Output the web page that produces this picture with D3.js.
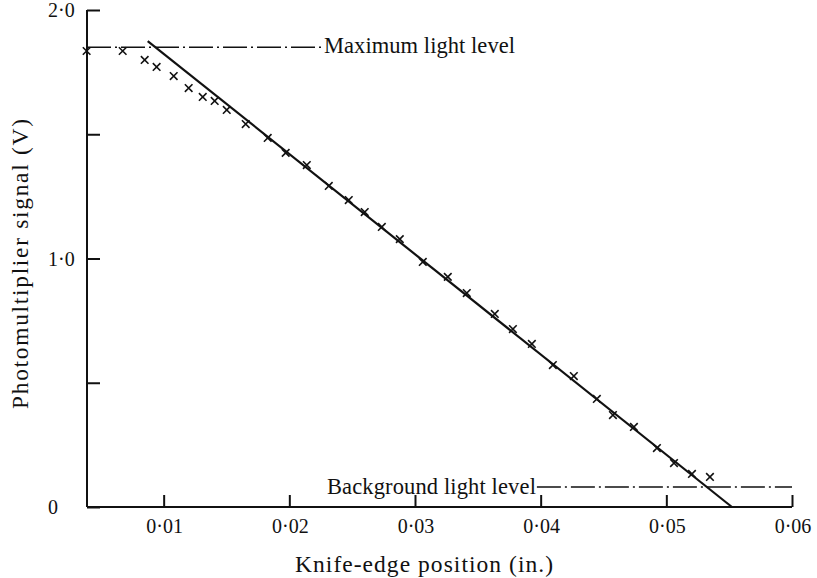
<!DOCTYPE html>
<html>
<head>
<meta charset="utf-8">
<script src="https://cdn.jsdelivr.net/npm/d3@7"></script>
<style>
  html, body { margin: 0; padding: 0; background: #fff; }
  svg { display: block; }
  text { font-family: "Liberation Serif", "Times New Roman", serif; fill: #111; }
</style>
</head>
<body>
<svg id="chart" width="817" height="578"></svg>
<script>
// ---- data ----
const knifePosition = [0.00387, 0.00674, 0.00849, 0.00944, 0.01080, 0.01199, 0.01311, 0.01406, 0.01502, 0.01653,
  0.01828, 0.01971, 0.02139, 0.02314, 0.02473, 0.02600, 0.02736, 0.02879, 0.03062, 0.03261,
  0.03412, 0.03635, 0.03779, 0.03930, 0.04097, 0.04264, 0.04447, 0.04575, 0.04742, 0.04925,
  0.05061, 0.05204, 0.05347];
const signalVolts = [1.835, 1.835, 1.799, 1.771, 1.734, 1.686, 1.650, 1.634, 1.598, 1.541,
  1.485, 1.425, 1.376, 1.292, 1.235, 1.187, 1.127, 1.078, 0.986, 0.926,
  0.861, 0.777, 0.716, 0.656, 0.571, 0.527, 0.435, 0.370, 0.322, 0.237,
  0.177, 0.133, 0.121];
const fitLineX = [0.00873, 0.05522];
const fitLineY = [1.875, 0];
const maxLevel = 1.85;
const maxLevelXEnd = 0.02268;
const backgroundLevel = 0.08;
const backgroundXStart = 0.0397;
const xTickValues = [0.01, 0.02, 0.03, 0.04, 0.05, 0.06];
const xTickLabels = ["0·01", "0·02", "0·03", "0·04", "0·05", "0·06"];
const yTickValues = [0, 0.5, 1.0, 1.5, 2.0];
const yTickLabels = ["0", "", "1·0", "", "2·0"];
const xTitle = "Knife-edge position (in.)";
const yTitle = "Photomultiplier signal (V)";
const maxLabel = "Maximum light level";
const bgLabel = "Background light level";

// ---- scales ----
const x = d3.scaleLinear().domain([0.0039, 0.06]).range([87, 792]);
const y = d3.scaleLinear().domain([0, 2]).range([507, 10]);

const svg = d3.select("#chart");
const ink = "#111";

// axes
const xAxis = d3.axisTop(x).tickValues(xTickValues).tickSize(12).tickFormat("");
const gx = svg.append("g").attr("transform", `translate(0,${y(0)})`).call(xAxis);
gx.select(".domain").attr("d", `M${x.range()[0]},0H${x.range()[1]}`).attr("stroke", ink).attr("stroke-width", 2);
gx.selectAll(".tick line").attr("stroke", ink).attr("stroke-width", 2);

const yAxis = d3.axisRight(y).tickValues(yTickValues).tickSize(13).tickFormat("");
const gy = svg.append("g").attr("transform", `translate(${x.range()[0]},0)`).call(yAxis);
gy.select(".domain").attr("d", `M0,${y.range()[0]}V${y.range()[1]}`).attr("stroke", ink).attr("stroke-width", 2);
gy.selectAll(".tick line").attr("stroke", ink).attr("stroke-width", 2);

// tick labels
svg.append("g").selectAll("text").data(xTickValues).join("text")
  .attr("x", d => x(d) + 1).attr("y", 533)
  .attr("text-anchor", "middle").attr("font-size", 20)
  .text((d, i) => xTickLabels[i]);

svg.append("g").selectAll("text").data(yTickValues).join("text")
  .attr("x", 48).attr("y", d => y(d) + 7)
  .attr("text-anchor", "start").attr("font-size", 20)
  .text((d, i) => yTickLabels[i]);

// axis titles
svg.append("text").attr("x", 424).attr("y", 572).attr("text-anchor", "middle")
  .attr("font-size", 23.5).attr("textLength", 258).attr("lengthAdjust", "spacing").text(xTitle);
svg.append("text").attr("transform", "translate(28,264) rotate(-90)").attr("text-anchor", "middle")
  .attr("font-size", 23.5).attr("textLength", 290).attr("lengthAdjust", "spacing").text(yTitle);

// reference levels (dash-dot)
svg.append("line").attr("x1", x.range()[0]).attr("x2", x(maxLevelXEnd))
  .attr("y1", y(maxLevel)).attr("y2", y(maxLevel))
  .attr("stroke", ink).attr("stroke-width", 1.5).attr("stroke-dasharray", "24,4,2,4");
svg.append("text").attr("x", x(maxLevelXEnd) + 1).attr("y", y(maxLevel) + 6)
  .attr("font-size", 22.5).attr("textLength", 191).attr("lengthAdjust", "spacing").text(maxLabel);

svg.append("line").attr("x1", x(backgroundXStart)).attr("x2", x.range()[1])
  .attr("y1", y(backgroundLevel)).attr("y2", y(backgroundLevel))
  .attr("stroke", ink).attr("stroke-width", 1.5).attr("stroke-dasharray", "24,4,2,4");
svg.append("text").attr("x", x(backgroundXStart) - 1).attr("y", y(backgroundLevel) + 7)
  .attr("text-anchor", "end")
  .attr("font-size", 22.5).attr("textLength", 209).attr("lengthAdjust", "spacing").text(bgLabel);

// fitted line
svg.append("line")
  .attr("x1", x(fitLineX[0])).attr("y1", y(fitLineY[0]))
  .attr("x2", x(fitLineX[1])).attr("y2", y(fitLineY[1]))
  .attr("stroke", ink).attr("stroke-width", 2.2);

// data crosses
const s = 3.8;
svg.append("g").selectAll("path").data(knifePosition).join("path")
  .attr("d", (d, i) => {
    const px = x(d), py = y(signalVolts[i]);
    return `M${px - s},${py - s}L${px + s},${py + s}M${px - s},${py + s}L${px + s},${py - s}`;
  })
  .attr("stroke", ink).attr("stroke-width", 1.6).attr("fill", "none");
</script>
</body>
</html>
